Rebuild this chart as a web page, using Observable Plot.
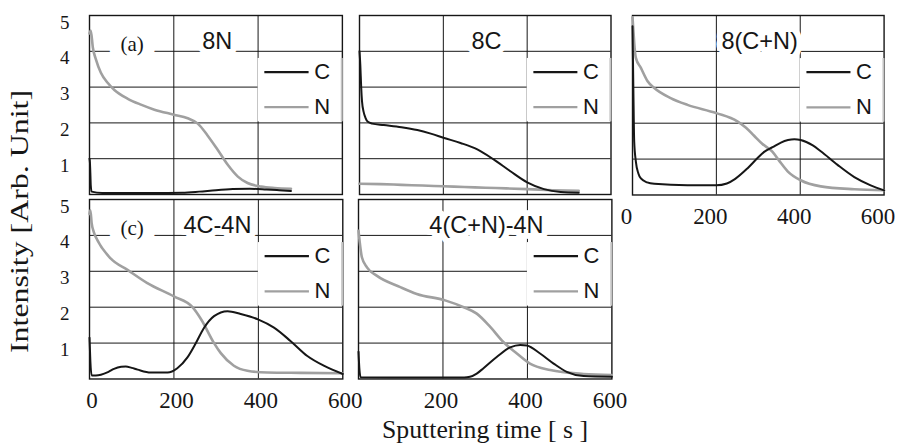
<!DOCTYPE html>
<html><head><meta charset="utf-8">
<script src="https://cdn.jsdelivr.net/npm/d3@7"></script>
<script src="https://cdn.jsdelivr.net/npm/@observablehq/plot@0.6"></script>
<style>
body{margin:0;background:#fff;}
#chart{position:relative;width:897px;height:445px;overflow:hidden;background:#fff;}
</style></head><body><div id="chart"></div>
<script>
// ---- data ----
const timeTicks = [0, 200, 400, 600];
const timeTicksNoZero = [200, 400, 600];
const intensityTicks = [1, 2, 3, 4, 5];
const gridIntensity = [1, 2, 3, 4];
const gridTime = [200, 400];
const panelTitles = ["8N", "8C", "8(C+N)", "4C-4N", "4(C+N)-4N"];
const panelTags = ["(a)", null, null, "(c)", null];
const legendLabels = ["C", "N"];
const xTitle = "Sputtering time [ s ]";
const yTitle = "Intensity [Arb. Unit]";

// 8N
const t8N_C = [0, 1, 2, 3, 5, 30, 80, 150, 220, 260, 300, 340, 380, 420, 450, 478];
const v8N_C = [1.0, 0.9, 0.6, 0.25, 0.08, 0.04, 0.04, 0.04, 0.05, 0.08, 0.12, 0.15, 0.16, 0.14, 0.12, 0.1];
const t8N_N = [0, 3, 8, 15, 27, 43, 59, 90, 122, 154, 200, 233, 257, 280, 304, 328, 352, 375, 407, 439, 478];
const v8N_N = [4.5, 4.58, 4.1, 3.78, 3.4, 3.12, 2.92, 2.68, 2.51, 2.37, 2.23, 2.13, 1.98, 1.65, 1.25, 0.83, 0.5, 0.32, 0.22, 0.18, 0.16];
// 8C
const t8C_C = [0, 2, 4, 6, 10, 14, 20, 30, 58, 100, 138, 170, 202, 241, 281, 320, 360, 400, 440, 480, 523];
const v8C_C = [4.0, 3.6, 3.0, 2.6, 2.3, 2.15, 2.03, 1.98, 1.94, 1.88, 1.8, 1.7, 1.58, 1.44, 1.26, 0.98, 0.65, 0.34, 0.15, 0.07, 0.05];
const t8C_N = [0, 50, 100, 150, 200, 250, 300, 350, 400, 460, 523];
const v8C_N = [0.3, 0.29, 0.27, 0.25, 0.23, 0.21, 0.19, 0.17, 0.15, 0.12, 0.1];
// 8(C+N)
const t8CN_C = [0, 2, 4, 8, 14, 20, 35, 52, 131, 200, 225, 245, 274, 300, 314, 334, 354, 386, 401, 430, 449, 489, 529, 568, 600];
const v8CN_C = [4.7, 3.0, 1.5, 0.93, 0.6, 0.46, 0.35, 0.31, 0.27, 0.27, 0.32, 0.45, 0.74, 1.05, 1.2, 1.33, 1.46, 1.55, 1.53, 1.38, 1.22, 0.84, 0.5, 0.27, 0.13];
const t8CN_N = [0, 2, 5, 8, 20, 36, 52, 91, 131, 200, 250, 270, 290, 310, 334, 350, 370, 401, 449, 529, 600];
const v8CN_N = [4.95, 4.6, 4.1, 3.82, 3.54, 3.17, 2.98, 2.7, 2.51, 2.28, 2.05, 1.88, 1.65, 1.42, 1.2, 0.95, 0.66, 0.41, 0.24, 0.16, 0.13];
// 4C-4N
const t4C4N_C = [0, 2, 5, 15, 27, 45, 58, 75, 86, 100, 114, 145, 185, 208, 232, 252, 270, 295, 327, 358, 399, 437, 476, 516, 555, 600];
const v4C4N_C = [1.15, 0.5, 0.1, 0.1, 0.12, 0.2, 0.28, 0.34, 0.35, 0.31, 0.26, 0.18, 0.18, 0.3, 0.6, 1.0, 1.4, 1.75, 1.89, 1.81, 1.66, 1.43, 1.06, 0.64, 0.37, 0.14];
const t4C4N_N = [0, 2, 5, 10, 19, 50, 90, 137, 200, 244, 265, 295, 311, 342, 374, 421, 500, 600];
const v4C4N_N = [4.6, 4.7, 4.35, 4.1, 3.86, 3.36, 3.04, 2.67, 2.3, 2.0, 1.65, 1.0, 0.72, 0.37, 0.23, 0.18, 0.17, 0.16];
// 4(C+N)-4N
const t4CN4N_C = [0, 2, 5, 100, 250, 264, 280, 296, 328, 359, 383, 399, 430, 462, 493, 533, 600];
const v4CN4N_C = [0.76, 0.3, 0.05, 0.04, 0.04, 0.06, 0.15, 0.3, 0.62, 0.88, 0.95, 0.93, 0.71, 0.43, 0.2, 0.08, 0.06];
const t4CN4N_N = [0, 3, 8, 20, 43, 99, 138, 205, 249, 280, 312, 343, 375, 406, 454, 533, 600];
const v4CN4N_N = [4.13, 3.8, 3.39, 3.11, 2.88, 2.56, 2.37, 2.19, 2.0, 1.82, 1.45, 1.03, 0.71, 0.43, 0.25, 0.14, 0.11];

// ---- layout & style ----
const SERIF = "'Liberation Serif','Times New Roman',serif";
const SANS = "'Liberation Sans',Arial,sans-serif";
const INK = "#161616";
const GRAY = "#a0a0a0";

const panels = [
  {i: 0, C: [t8N_C, v8N_C], N: [t8N_N, v8N_N], L: 88.7, R: 341.6, T: 14.5, B: 193.5, yAxis: true, xTicks: null, xdx: 0},
  {i: 1, C: [t8C_C, v8C_C], N: [t8C_N, v8C_N], L: 359, R: 610.5, T: 14.5, B: 193.5, yAxis: false, xTicks: null, xdx: 0},
  {i: 2, C: [t8CN_C, v8CN_C], N: [t8CN_N, v8CN_N], L: 631.7, R: 883.3, T: 14.5, B: 194, yAxis: false, xTicks: timeTicks, xdx: -6},
  {i: 3, C: [t4C4N_C, v4C4N_C], N: [t4C4N_N, v4C4N_N], L: 88.7, R: 342, T: 199, B: 378.5, yAxis: true, xTicks: timeTicks, xdx: 2.5},
  {i: 4, C: [t4CN4N_C, v4CN4N_C], N: [t4CN4N_N, v4CN4N_N], L: 358.3, R: 611.7, T: 199, B: 378.5, yAxis: false, xTicks: timeTicksNoZero, xdx: -2}
];

const chart = document.getElementById("chart");
const ML = 46, MR = 8, MT = 6, MB = 40;
const rows = ([ts, vs]) => ts.map((t, k) => ({t, v: vs[k]}));
const legendY = [3.42, 2.44];

for (const p of panels) {
  const w = p.R - p.L, h = p.B - p.T;
  const marks = [
    Plot.gridY(gridIntensity, {stroke: INK, strokeOpacity: 1, strokeWidth: 1}),
    Plot.gridX(gridTime, {stroke: INK, strokeOpacity: 1, strokeWidth: 1}),
    Plot.frame({stroke: INK, strokeWidth: 1.4}),
    Plot.line(rows(p.N), {x: "t", y: "v", stroke: GRAY, strokeWidth: 2.6, curve: "monotone-x"}),
    Plot.line(rows(p.C), {x: "t", y: "v", stroke: INK, strokeWidth: 2, curve: "monotone-x"}),
    Plot.rect([0], {x1: 400, x2: 600, y1: 2.03, y2: 3.8, fill: "white"}),
    Plot.ruleX([598.5], {y1: 2.03, y2: 3.8, stroke: "#c4c4c4", strokeWidth: 2}),
    Plot.ruleY([legendY[0]], {x1: 416, x2: 521, stroke: INK, strokeWidth: 2.2}),
    Plot.ruleY([legendY[1]], {x1: 416, x2: 521, stroke: GRAY, strokeWidth: 2.2}),
    Plot.text(legendLabels, {x: 533, y: (d, k) => legendY[k], text: d => d, textAnchor: "start",
      fontFamily: SANS, fontSize: 22, fill: INK}),
    Plot.text([panelTitles[p.i]], {x: 303, y: 4.27, text: d => d, fontFamily: SANS, fontSize: 23.5, fill: INK,
      stroke: "white", strokeWidth: 12, paintOrder: "stroke", strokeLinejoin: "round"})
  ];
  if (panelTags[p.i]) {
    marks.push(Plot.text([panelTags[p.i]], {x: 101, y: 4.2, text: d => d, fontFamily: SERIF, fontSize: 21, fill: INK,
      stroke: "white", strokeWidth: 24, paintOrder: "stroke", strokeLinejoin: "round"}));
  }
  if (p.yAxis) {
    marks.push(Plot.axisY(intensityTicks, {anchor: "left", tickSize: 0, tickPadding: 20, dy: 7,
      fontSize: 19, fontFamily: SERIF, fill: INK, label: null}));
  }
  if (p.xTicks) {
    marks.push(Plot.axisX(p.xTicks, {anchor: "bottom", tickSize: 0, tickPadding: 13, dx: p.xdx,
      fontSize: 23, fontFamily: SERIF, fill: INK, label: null}));
  }
  const svg = Plot.plot({
    width: w + ML + MR, height: h + MT + MB,
    marginLeft: ML, marginRight: MR, marginTop: MT, marginBottom: MB,
    x: {domain: [0, 600], axis: null},
    y: {domain: [0, 5], axis: null},
    style: {background: "transparent", overflow: "visible", fontFamily: SERIF},
    marks
  });
  svg.style.position = "absolute";
  svg.style.left = (p.L - ML) + "px";
  svg.style.top = (p.T - MT) + "px";
  chart.appendChild(svg);
}

// axis titles
const overlay = d3.select(chart).append("svg")
  .attr("width", 897).attr("height", 445)
  .style("position", "absolute").style("left", "0px").style("top", "0px")
  .style("pointer-events", "none");
overlay.append("text")
  .attr("transform", "translate(28,221.5) rotate(-90)")
  .attr("text-anchor", "middle")
  .attr("font-family", SERIF).attr("font-size", 25).attr("fill", INK)
  .attr("textLength", 263).attr("lengthAdjust", "spacingAndGlyphs")
  .text(yTitle);
overlay.append("text")
  .attr("x", 485).attr("y", 438)
  .attr("text-anchor", "middle")
  .attr("font-family", SERIF).attr("font-size", 25.5).attr("fill", INK)
  .attr("textLength", 206).attr("lengthAdjust", "spacingAndGlyphs")
  .text(xTitle);
</script></body></html>
